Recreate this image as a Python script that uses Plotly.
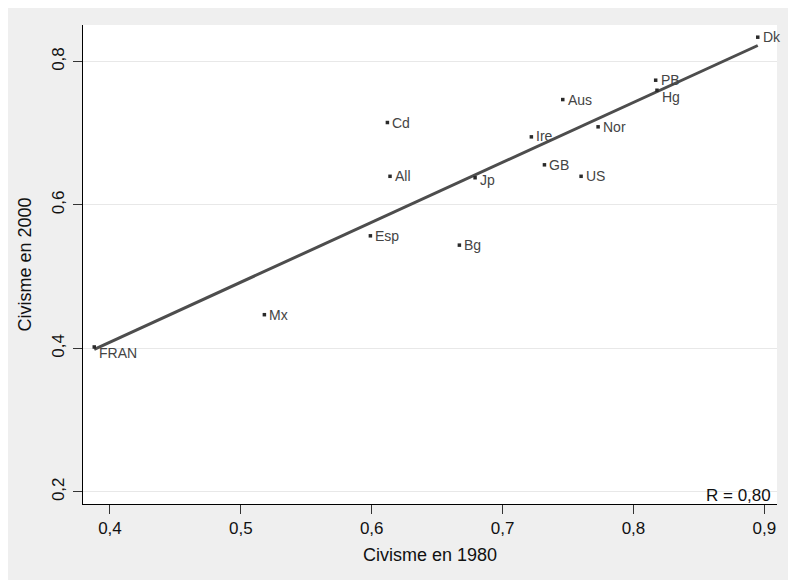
import numpy as np
import plotly.graph_objects as go

# ---- data ----
countries = ["FRAN", "Mx", "Esp", "Cd", "All", "Bg", "Jp", "Ire", "GB", "Aus", "US", "Nor", "PB", "Hg", "Dk"]
civisme_1980 = [0.388, 0.518, 0.599, 0.612, 0.614, 0.667, 0.679, 0.722, 0.732, 0.746, 0.760, 0.773, 0.817, 0.818, 0.895]
civisme_2000 = [0.402, 0.447, 0.557, 0.715, 0.640, 0.544, 0.638, 0.695, 0.656, 0.747, 0.640, 0.709, 0.774, 0.760, 0.834]
x_ticks = [0.4, 0.5, 0.6, 0.7, 0.8, 0.9]
y_ticks = [0.2, 0.4, 0.6, 0.8]
r_label = "R = 0,80"

# ---- layout constants ----
# the page body adds an 8px offset; margins compensate so the plot area lands where it should
W, H = 796, 580
ML, MR, MT, MB = 75, 27, 17, 84
FONT = "Liberation Sans, Arial, sans-serif"

# per-label vertical nudges (pixels), style only
label_dy = {"FRAN": -6, "Hg": -7, "Jp": -2, "Ire": 1}

# OLS fit line across the observed x range
slope, intercept = np.polyfit(civisme_1980, civisme_2000, 1)
fit_x = [min(civisme_1980), max(civisme_1980)]
fit_y = [slope * v + intercept for v in fit_x]

fig = go.Figure()
fig.add_trace(go.Scatter(
    x=fit_x, y=fit_y, mode="lines",
    line=dict(color="#4d4d4d", width=3), hoverinfo="skip", showlegend=False,
))
fig.add_trace(go.Scatter(
    x=civisme_1980, y=civisme_2000, mode="markers",
    marker=dict(symbol="square", size=3.5, color="#2a2a2a", line=dict(width=0)),
    text=countries, showlegend=False,
))

for name, xv, yv in zip(countries, civisme_1980, civisme_2000):
    fig.add_annotation(
        x=xv, y=yv, text=name, showarrow=False,
        xanchor="left", yanchor="middle", xshift=3, yshift=label_dy.get(name, 0),
        font=dict(family=FONT, size=14, color="#444444"),
    )

fig.add_annotation(
    x=1, y=0, xref="paper", yref="paper", text=r_label, showarrow=False,
    xanchor="right", yanchor="bottom", xshift=-4, yshift=-3,
    font=dict(family=FONT, size=17, color="#111111"),
)

fig.update_layout(
    width=W, height=H,
    margin=dict(l=ML, r=MR, t=MT, b=MB, pad=0, autoexpand=False),
    paper_bgcolor="#efefef", plot_bgcolor="white",
    separators=", ",
    font=dict(family=FONT, size=17, color="#111111"),
    showlegend=False,
)
fig.update_xaxes(
    range=[0.3794, 0.9097], tickvals=x_ticks, tickformat=".1f", automargin=False,
    showgrid=False, zeroline=False,
    showline=True, linecolor="black", linewidth=1,
    ticks="outside", ticklen=9, tickcolor="#333333", tickwidth=1,
    tickfont=dict(family=FONT, size=17, color="#111111"),
    title=dict(text="Civisme en 1980", font=dict(family=FONT, size=18, color="#111111"), standoff=10),
)
fig.update_yaxes(
    range=[0.183, 0.851], tickvals=y_ticks, tickformat=".1f", automargin=False,
    showgrid=True, gridcolor="#e8e8e8", gridwidth=1, zeroline=False,
    showline=True, linecolor="black", linewidth=1,
    ticks="outside", ticklen=9, tickcolor="#333333", tickwidth=1,
    tickangle=-90, ticklabelstandoff=2,
    tickfont=dict(family=FONT, size=17, color="#111111"),
    title=dict(text="Civisme en 2000", font=dict(family=FONT, size=18, color="#111111"), standoff=12),
)

fig.write_html("out.html")
